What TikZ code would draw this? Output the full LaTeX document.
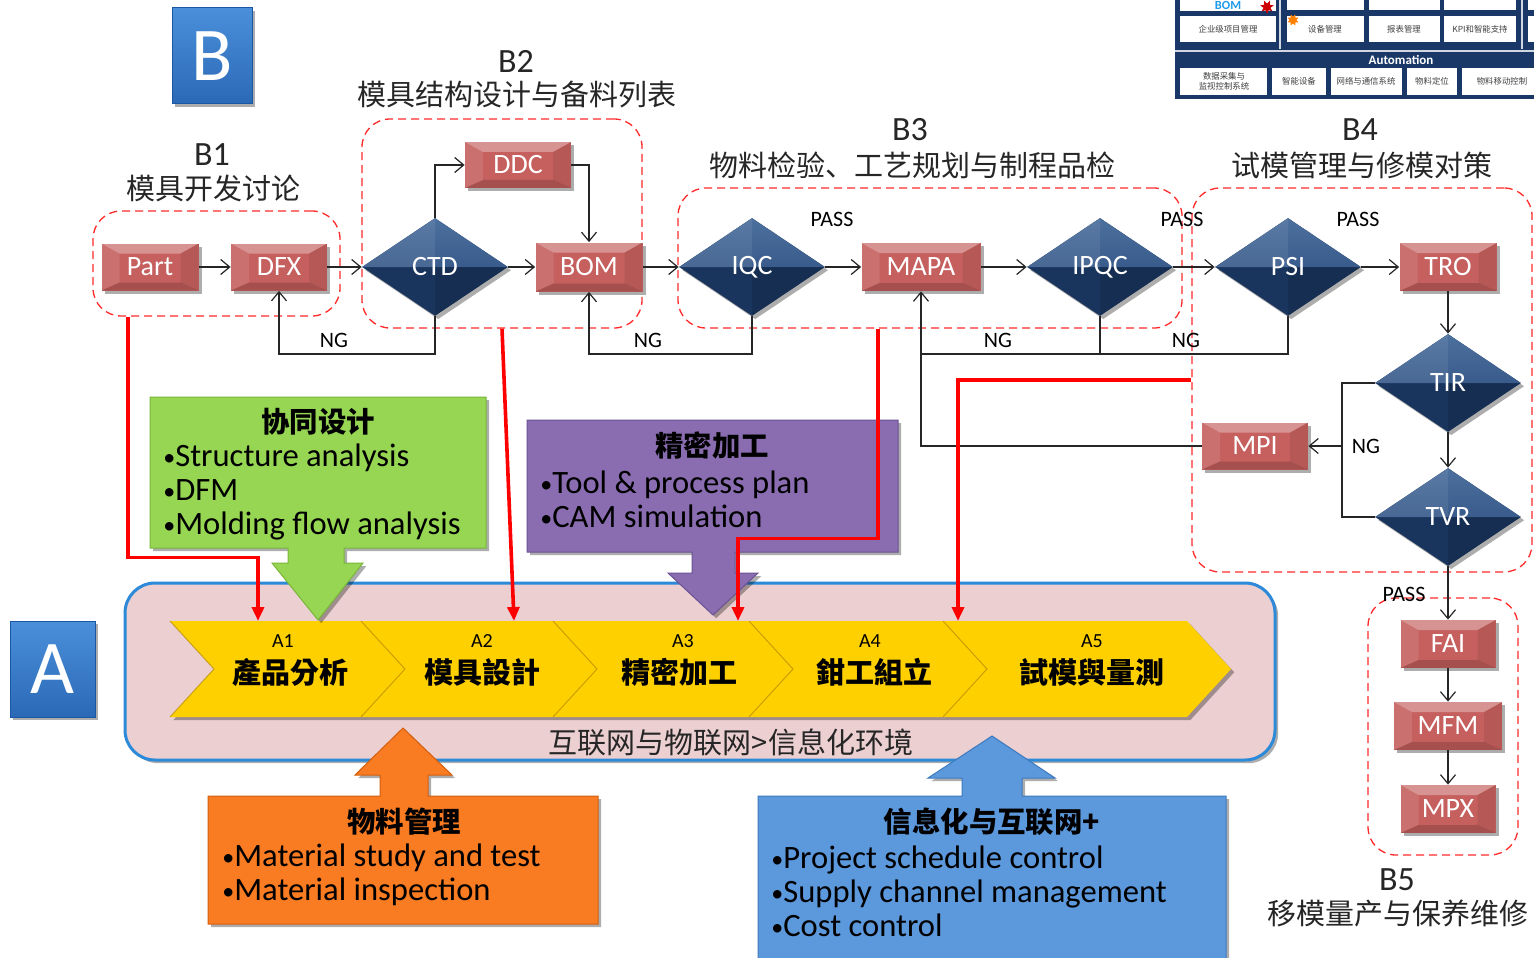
\documentclass[tikz,border=0pt]{standalone}
\usepackage{fontspec}
\setmainfont{Carlito}
\newfontfamily\cjk{Noto Sans CJK SC}
\newfontfamily\cjktc{Noto Sans CJK TC}
\usetikzlibrary{arrows.meta,shapes.geometric,shadows}

\definecolor{nodered}{HTML}{C5605E}
\definecolor{navy}{HTML}{1A355D}
\definecolor{navylt}{HTML}{4C709E}
\definecolor{navymid}{HTML}{27477A}
\definecolor{dashred}{HTML}{FF2A2A}
\definecolor{bandpink}{HTML}{EBCFD1}
\definecolor{bandpale}{HTML}{F8EEEF}
\definecolor{bandblue}{HTML}{2C8AD8}
\definecolor{chevgold}{HTML}{FFD000}
\definecolor{chevlt}{HTML}{FFE55E}
\definecolor{chevdk}{HTML}{D9A600}
\definecolor{chevedge}{HTML}{B88C00}
\definecolor{cgreen}{HTML}{96D653}
\definecolor{cgreendk}{HTML}{78B63A}
\definecolor{cpurple}{HTML}{8A6DB1}
\definecolor{cpurpledk}{HTML}{6C5294}
\definecolor{corange}{HTML}{F97B22}
\definecolor{corangedk}{HTML}{D4600F}
\definecolor{cblue}{HTML}{5C98DC}
\definecolor{cbluedk}{HTML}{3E79BE}
\definecolor{tblnavy}{HTML}{1A3867}
\definecolor{bomblue}{HTML}{1E9BE8}
\definecolor{sqlight}{HTML}{5AA2EC}
\definecolor{sqdark}{HTML}{1B56A4}

\pgfdeclareverticalshading{bandshade}{100bp}{color(0bp)=(bandpink); color(84bp)=(bandpink); color(95bp)=(bandpale); color(100bp)=(white)}
\pgfdeclareverticalshading{chevshade}{100bp}{color(0bp)=(chevdk); color(9bp)=(chevgold); color(86bp)=(chevgold); color(100bp)=(chevlt)}
\pgfdeclareverticalshading{sqshade}{100bp}{color(0bp)=(sqdark); color(100bp)=(sqlight)}

% one step of the yellow process chain: left x, right x (top edge)
\newcommand\chevronstep[2]{%
  \shade[shading=chevshade, softshadow] (#1,621) -- (#2,621) -- ({#2+44},669) -- (#2,717) -- (#1,717) -- ({#1+44},669) -- cycle;
  \draw[chevedge, line width=0.5pt, opacity=.7] (#1,717) -- ({#1+44},669) -- (#1,621);
}
% small list bullet
\newcommand\blt{{\fontsize{12}{12}\selectfont\raisebox{0.5pt}{•}}}

\tikzset{
  softshadow/.style={drop shadow={shadow xshift=1.6pt,shadow yshift=-1.6pt,opacity=.32,fill=black}},
  bevelr/.style={path picture={
    \coordinate (bvnw) at (path picture bounding box.north west);
    \coordinate (bvne) at (path picture bounding box.north east);
    \coordinate (bvsw) at (path picture bounding box.south west);
    \coordinate (bvse) at (path picture bounding box.south east);
    \coordinate (bvinw) at ([shift={(9pt,-5pt)}]bvnw);
    \coordinate (bvine) at ([shift={(-9pt,-5pt)}]bvne);
    \coordinate (bvisw) at ([shift={(9pt,4pt)}]bvsw);
    \coordinate (bvise) at ([shift={(-9pt,4pt)}]bvse);
    \fill[white,opacity=.32] (bvnw) -- (bvne) -- (bvine) -- (bvinw) -- cycle;
    \fill[white,opacity=.10] (bvnw) -- (bvinw) -- (bvisw) -- (bvsw) -- cycle;
    \fill[black,opacity=.08] (bvne) -- (bvine) -- (bvise) -- (bvse) -- cycle;
    \fill[black,opacity=.16] (bvsw) -- (bvisw) -- (bvise) -- (bvse) -- cycle;
  }},
  beveld/.style={path picture={
    \shade[top color=navylt, bottom color=navymid] (path picture bounding box.west) -- (path picture bounding box.north) -- (path picture bounding box.east) -- cycle;
    \fill[white,opacity=.08] (path picture bounding box.west) -- (path picture bounding box.north) -- (path picture bounding box.center) -- cycle;
    \fill[black,opacity=.12] (path picture bounding box.east) -- (path picture bounding box.south) -- (path picture bounding box.center) -- cycle;
  }},
  procbox/.style={rectangle, fill=nodered, text=white, font=\fontsize{14}{14}\selectfont, inner sep=0pt, softshadow, bevelr},
  decide/.style={diamond, fill=navy, text=white, font=\fontsize{14}{14}\selectfont, inner sep=0pt, minimum width=73pt, minimum height=49pt, softshadow, beveld},
  grpbox/.style={rectangle, draw=dashred, dash pattern=on 4pt off 2.5pt, line width=0.65pt, rounded corners=14pt, inner sep=0pt},
  flow/.style={draw=black!85, line width=0.6pt, -{Straight Barb[length=4.5pt,width=7.5pt]}},
  link/.style={draw=black!85, line width=0.6pt},
  redline/.style={draw=red, line width=1.8pt, -{Triangle[length=7pt,width=6pt]}},
  tag/.style={font=\fontsize{11}{11}\selectfont, inner sep=0pt},
  secnum/.style={font=\fontsize{17}{17}\selectfont, inner sep=0pt, text=black!85},
  secname/.style={font=\cjk\fontsize{14.5}{14.5}\selectfont, inner sep=0pt, text=black!85},
  lettersq/.style={rectangle, shade, shading=sqshade, draw=sqdark, line width=0.5pt, text=white, font=\fontsize{38}{38}\selectfont, minimum width=40pt, minimum height=48pt, inner sep=0pt, softshadow},
  stepnum/.style={font=\fontsize{10}{10}\selectfont, inner sep=0pt},
  stepname/.style={font=\cjktc\bfseries\fontsize{14.5}{14.5}\selectfont, inner sep=0pt},
  ctitle/.style={font=\cjk\bfseries\fontsize{14.2}{14.2}\selectfont, inner sep=0pt},
  cbody/.style={anchor=west, align=left, inner sep=0pt, font=\fontsize{16.3}{17}\selectfont},
  celltxt/.style={font=\cjk\fontsize{4.2}{5}\selectfont, text=black!75, inner sep=0pt, align=center},
  cell/.style={fill=white},
}

\begin{document}
\begin{tikzpicture}[x=0.5pt,y=-0.5pt]
\useasboundingbox (0,0) rectangle (1534,957);
\fill[white] (0,0) rectangle (1534,957);

% ---------- platform overview panel, top right ----------
\fill[tblnavy] (1175,-4) rectangle (1540,99);
\draw[white!80!tblnavy, line width=1pt] (1280,-4) -- (1280,49) (1522,-4) -- (1522,49) (1175,51) -- (1540,51);
\fill[cell] (1180,-4) rectangle (1276,11);
\fill[cell] (1180,16) rectangle (1276,42);
\fill[cell] (1287,-4) rectangle (1364,10);
\fill[cell] (1369,-4) rectangle (1440,10);
\fill[cell] (1444,-4) rectangle (1516,10);
\fill[cell] (1287,16) rectangle (1364,42);
\fill[cell] (1369,16) rectangle (1440,42);
\fill[cell] (1444,16) rectangle (1516,42);
\fill[cell] (1528,-4) rectangle (1540,10);
\fill[cell] (1528,16) rectangle (1540,42);
\node[font=\bfseries\fontsize{6.2}{6.2}\selectfont, text=bomblue, inner sep=0pt] (bomcell) at (1228,5) {BOM};
\node[star, star points=7, star point ratio=0.5, fill=red!80!black, minimum size=3.5pt, inner sep=0pt] (redstar) at (1267,7) {};
\node[star, star points=8, star point ratio=0.6, fill=orange, minimum size=3.5pt, inner sep=0pt] (sunstar) at (1293,20) {};
\node[celltxt] (c11) at (1228,29) {企业级项目管理};
\node[celltxt] (c21) at (1325,29) {设备管理};
\node[celltxt] (c22) at (1404,29) {报表管理};
\node[celltxt] (c23) at (1480,29) {KPI和智能支持};
\node[font=\bfseries\fontsize{6.5}{6.5}\selectfont, text=white, inner sep=0pt] (autom) at (1401,60) {Automation};
\fill[cell] (1180,68) rectangle (1267,95);
\fill[cell] (1272,68) rectangle (1326,95);
\fill[cell] (1331,68) rectangle (1402,95);
\fill[cell] (1407,68) rectangle (1457,95);
\fill[cell] (1462,68) rectangle (1540,95);
\node[celltxt] (d1) at (1224,81) {数据采集与\\监视控制系统};
\node[celltxt] (d2) at (1299,81) {智能设备};
\node[celltxt] (d3) at (1366,81) {网络与通信系统};
\node[celltxt] (d4) at (1432,81) {物料定位};
\node[celltxt] (d5) at (1502,81) {物料移动控制};

% ---------- section letters ----------
\node[lettersq] (secB) at (212,56) {B};
\node[lettersq, minimum width=42.5pt] (secA) at (52.5,669) {A};

% ---------- information environment band ----------
\shadedraw[shading=bandshade, draw=bandblue, line width=1.5pt, rounded corners=15pt, softshadow] (125,583) rectangle (1275,760);
\node[font=\cjk\fontsize{14.5}{14.5}\selectfont, inner sep=0pt, text=black!85] (envtxt) at (731,742) {互联网与物联网>信息化环境};

% ---------- process chain A1..A5 ----------
\chevronstep{170}{361}
\chevronstep{361}{553}
\chevronstep{553}{749}
\chevronstep{749}{943}
\chevronstep{943}{1187}
\coordinate (a1top) at (258,621);
\coordinate (a2top) at (514,621);
\coordinate (a3top) at (738,621);
\coordinate (a5top) at (958,621);
\node[stepnum] (a1n) at (283,641) {A1};
\node[stepname] (a1s) at (290,672) {產品分析};
\node[stepnum] (a2n) at (482,641) {A2};
\node[stepname] (a2s) at (482,672) {模具設計};
\node[stepnum] (a3n) at (683,641) {A3};
\node[stepname] (a3s) at (679,672) {精密加工};
\node[stepnum] (a4n) at (870,641) {A4};
\node[stepname] (a4s) at (874,672) {鉗工組立};
\node[stepnum] (a5n) at (1092,641) {A5};
\node[stepname] (a5s) at (1092,672) {試模與量測};

% ---------- callouts ----------
\filldraw[fill=cgreen, draw=cgreendk, line width=0.5pt, softshadow]
  (150,397) -- (486,397) -- (486,548) -- (344,548) -- (344,563) -- (363,563) -- (318,620)
  -- (272,563) -- (288,563) -- (288,548) -- (150,548) -- cycle;
\node[ctitle] (gT) at (318,422) {协同设计};
\node[cbody] (gB) at (163,492) {\blt Structure analysis\\\blt DFM\\\blt Molding flow analysis};

\filldraw[fill=cpurple, draw=cpurpledk, line width=0.5pt, softshadow]
  (527,420) -- (898,420) -- (898,552) -- (735,552) -- (735,573) -- (758,573) -- (713,615)
  -- (668,573) -- (692,573) -- (692,552) -- (527,552) -- cycle;
\node[ctitle] (pT) at (712,446) {精密加工};
\node[cbody] (pB) at (540,499) {\blt Tool \& process plan\\\blt CAM simulation};

\filldraw[fill=corange, draw=corangedk, line width=0.5pt, softshadow]
  (208,796) -- (380,796) -- (380,775) -- (355,775) -- (403,728) -- (452,775) -- (428,775)
  -- (428,796) -- (598,796) -- (598,924) -- (208,924) -- cycle;
\node[ctitle] (oT) at (404,822) {物料管理};
\node[cbody] (oB) at (222,875) {\blt Material study and test\\\blt Material inspection};

\filldraw[fill=cblue, draw=cbluedk, line width=0.5pt, softshadow]
  (758,796) -- (962,796) -- (962,778) -- (928,778) -- (992,736) -- (1055,778) -- (1022,778)
  -- (1022,796) -- (1226,796) -- (1226,964) -- (758,964) -- cycle;
\node[ctitle] (bT) at (992,822) {信息化与互联网+};
\node[cbody] (bB) at (771,891) {\blt Project schedule control\\\blt Supply channel management\\\blt Cost control};

% ---------- stage groups B1..B5 ----------
\node[grpbox, minimum width=123.5pt, minimum height=52.5pt] (g1) at (216.5,263.5) {};
\node[grpbox, minimum width=140pt, minimum height=104.5pt] (g2) at (502,223.5) {};
\node[grpbox, minimum width=252pt, minimum height=70pt] (g3) at (930,258) {};
\node[grpbox, minimum width=170pt, minimum height=192pt] (g4) at (1362,380) {};
\node[grpbox, minimum width=75pt, minimum height=128.5pt] (g5) at (1443,726.5) {};

\node[secnum] (b1n) at (212,155) {B1};
\node[secname] (b1t) at (213,188) {模具开发讨论};
\node[secnum] (b2n) at (516,61) {B2};
\node[secname] (b2t) at (517,95) {模具结构设计与备料列表};
\node[secnum] (b3n) at (910,130) {B3};
\node[secname] (b3t) at (912,165) {物料检验、工艺规划与制程品检};
\node[secnum] (b4n) at (1360,130) {B4};
\node[secname] (b4t) at (1362,165) {试模管理与修模对策};
\node[secnum] (b5n) at (1397,880) {B5};
\node[secname] (b5t) at (1398,913) {移模量产与保养维修};

% ---------- flow nodes ----------
\node[procbox, minimum width=48.5pt, minimum height=23.5pt] (part) at (150,267) {Part};
\node[procbox, minimum width=48pt, minimum height=23.5pt] (dfx) at (279,267) {DFX};
\node[decide] (ctd) at (435,267) {CTD};
\node[procbox, minimum width=53pt, minimum height=23pt] (ddc) at (518,165) {DDC};
\node[procbox, minimum width=53.5pt, minimum height=24.5pt] (bom) at (589,267) {BOM};
\node[decide] (iqc) at (752,267) {IQC};
\node[procbox, minimum width=59.5pt, minimum height=24pt] (mapa) at (921,267) {MAPA};
\node[decide] (ipqc) at (1100,267) {IPQC};
\node[decide] (psi) at (1288,267) {PSI};
\node[procbox, minimum width=48.5pt, minimum height=24pt] (tro) at (1448,267) {TRO};
\node[decide] (tir) at (1448,383) {TIR};
\node[procbox, minimum width=53pt, minimum height=23.5pt] (mpi) at (1255,446) {MPI};
\node[decide] (tvr) at (1448,517) {TVR};
\node[procbox, minimum width=47.5pt, minimum height=24pt] (fai) at (1448,644) {FAI};
\node[procbox, minimum width=54pt, minimum height=24pt] (mfm) at (1448,726) {MFM};
\node[procbox, minimum width=47.5pt, minimum height=24pt] (mpx) at (1448,809) {MPX};

\coordinate (ngline) at (0,354);
\coordinate (ngx) at (1342,446);

% main line
\draw[flow] (part) -- (dfx);
\draw[flow] (dfx) -- (ctd.west);
\draw[flow] (ctd.east) -- (bom);
\draw[flow] (ctd.north) |- (ddc.west);
\draw[flow] (ddc.east) -| (bom.north);
\draw[flow] (bom) -- (iqc.west);
\draw[flow] (iqc.east) -- (mapa);
\draw[flow] (mapa) -- (ipqc.west);
\draw[flow] (ipqc.east) -- (psi.west);
\draw[flow] (psi.east) -- (tro);
\draw[flow] (tro) -- (tir.north);
\draw[flow] (tir.south) -- (tvr.north);
\draw[flow] (tvr.south) -- (fai);
\draw[flow] (fai) -- (mfm);
\draw[flow] (mfm) -- (mpx);

% rework loops
\draw[flow] (ctd.south) -- (ctd.south |- ngline) -| (dfx.south);
\draw[flow] (iqc.south) -- (iqc.south |- ngline) -| (bom.south);
\draw[flow] (ipqc.south) -- (ipqc.south |- ngline) -| (mapa.south);
\draw[link] (psi.south) -- (psi.south |- ngline) -- (ipqc.south |- ngline);
\draw[link] (tir.west) -| (ngx) |- (tvr.west);
\draw[flow] (ngx) -- (mpi.east);
\draw[link] (mpi.west) -| (mapa.south |- ngline);

% outcome tags
\node[tag] (ng1) at (334,340) {NG};
\node[tag] (ng2) at (648,340) {NG};
\node[tag] (ng3) at (998,340) {NG};
\node[tag] (ng4) at (1186,340) {NG};
\node[tag] (ng5) at (1366,446) {NG};
\node[tag] (ps1) at (832,219) {PASS};
\node[tag] (ps2) at (1182,219) {PASS};
\node[tag] (ps3) at (1358,219) {PASS};
\node[tag] (ps4) at (1404,594) {PASS};

% ---------- stage-to-step links ----------
\draw[redline] ([xshift=-44.25pt]g1.south) -- ++(0,241) -| (a1top);
\draw[redline] (g2.south) -- (a2top);
\draw[redline] ([xshift=-26pt]g3.south) -- ++(0,210) -| (a3top);
\draw[redline] (g4.west) -| (a5top);

\end{tikzpicture}
\end{document}
